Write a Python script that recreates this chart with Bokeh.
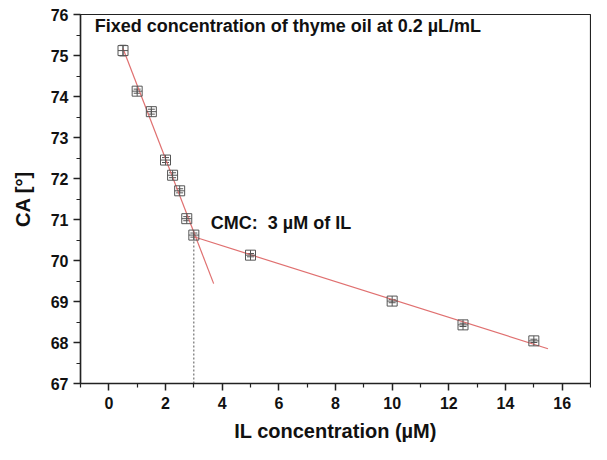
import numpy as np
from bokeh.plotting import figure
from bokeh.models import Range1d, FixedTicker, Whisker, ColumnDataSource
from bokeh.core.properties import value
from bokeh.embed import file_html
from bokeh.resources import INLINE

# data
il_conc = [0.5, 1.0, 1.5, 2.0, 2.25, 2.5, 2.75, 3.0, 5.0, 10.0, 12.5, 15.0]
ca = [75.12, 74.13, 73.63, 72.45, 72.08, 71.70, 71.02, 70.62, 70.13, 69.01, 68.43, 68.04]
ca_err = [0.13, 0.05, 0.06, 0.06, 0.06, 0.05, 0.05, 0.05, 0.04, 0.04, 0.04, 0.04]
pre_cmc_n = 8          # points used for the steep fit
fit1_range = [0.5, 3.7]
fit2_range = [3.0, 15.5]
cmc = 3.0
x_major = [0, 2, 4, 6, 8, 10, 12, 14, 16]
x_minor = [-1, 1, 3, 5, 7, 9, 11, 13, 15, 17]
y_major = [67, 68, 69, 70, 71, 72, 73, 74, 75, 76]
y_minor = [67.5, 68.5, 69.5, 70.5, 71.5, 72.5, 73.5, 74.5, 75.5]

FONT = "Liberation Sans"

p = figure(width=591, height=444, output_backend="svg", toolbar_location=None,
           x_range=Range1d(-1, 17), y_range=Range1d(67, 76),
           min_border_left=80, min_border_right=1, min_border_top=14, min_border_bottom=52)
p.xgrid.visible = False
p.ygrid.visible = False
p.outline_line_color = "#222222"
p.outline_line_width = 1.2
p.background_fill_color = "white"
p.border_fill_color = "white"

# fits
x = np.array(il_conc)
y = np.array(ca)
k1, b1 = np.polyfit(x[:pre_cmc_n], y[:pre_cmc_n], 1)
k2, b2 = np.polyfit(x[pre_cmc_n - 1:], y[pre_cmc_n - 1:], 1)
fx1 = np.array(fit1_range)
fx2 = np.array(fit2_range)
p.line(fx1, k1 * fx1 + b1, line_color="#e07070", line_width=1.2)
p.line(fx2, k2 * fx2 + b2, line_color="#e07070", line_width=1.2)

# CMC dashed line
y_cmc = k2 * cmc + b2
p.segment(x0=[cmc], y0=[67], x1=[cmc], y1=[y_cmc], line_color="#555555",
          line_dash="2 2", line_width=1)

src = ColumnDataSource(dict(x=il_conc, y=ca,
                            lo=[a - e for a, e in zip(ca, ca_err)],
                            hi=[a + e for a, e in zip(ca, ca_err)]))
w = Whisker(base="x", lower="lo", upper="hi", source=src, line_color="#555555",
            line_width=1)
w.upper_head.size = 7
w.lower_head.size = 7
w.upper_head.line_color = "#555555"
w.lower_head.line_color = "#555555"
p.add_layout(w)
p.scatter("x", "y", source=src, marker="square_cross", size=10, fill_color=None,
          line_color="#555555", line_width=1)

# annotations
p.text(x=[-0.5], y=[75.73], text=["Fixed concentration of thyme oil at 0.2 µL/mL"],
       text_font=value(FONT), text_font_style="bold", text_font_size="18px",
       text_baseline="middle", text_align="left", text_color="#111111")
p.text(x=[3.6], y=[70.92], text=["CMC:\u00a0 3 µM of IL"],
       text_font=value(FONT), text_font_style="bold", text_font_size="18px",
       text_baseline="middle", text_align="left", text_color="#111111")

# axes
for ax in (p.xaxis[0], p.yaxis[0]):
    ax.axis_line_color = "#222222"
    ax.axis_line_width = 1.5
    ax.major_tick_line_color = "#222222"
    ax.minor_tick_line_color = "#222222"
    ax.major_tick_line_width = 1.5
    ax.minor_tick_line_width = 1.2
    ax.major_tick_out = 7
    ax.major_tick_in = 0
    ax.minor_tick_out = 4
    ax.minor_tick_in = 0
    ax.major_label_text_font = FONT
    ax.major_label_text_font_style = "bold"
    ax.major_label_text_font_size = "16px"
    ax.major_label_text_color = "#111111"
    ax.axis_label_text_font = FONT
    ax.axis_label_text_font_style = "bold"
    ax.axis_label_text_font_size = "20px"
    ax.axis_label_text_color = "#111111"

p.xaxis.ticker = FixedTicker(ticks=x_major, minor_ticks=x_minor)
p.yaxis.ticker = FixedTicker(ticks=y_major, minor_ticks=y_minor)
p.xaxis.axis_label = "IL concentration (µM)"
p.yaxis.axis_label = "CA [°]"
p.xaxis.major_label_standoff = 6
p.yaxis.major_label_standoff = 5
p.xaxis.axis_label_standoff = 8
p.yaxis.axis_label_standoff = 14

open("out.html", "w").write(file_html(p, INLINE))
